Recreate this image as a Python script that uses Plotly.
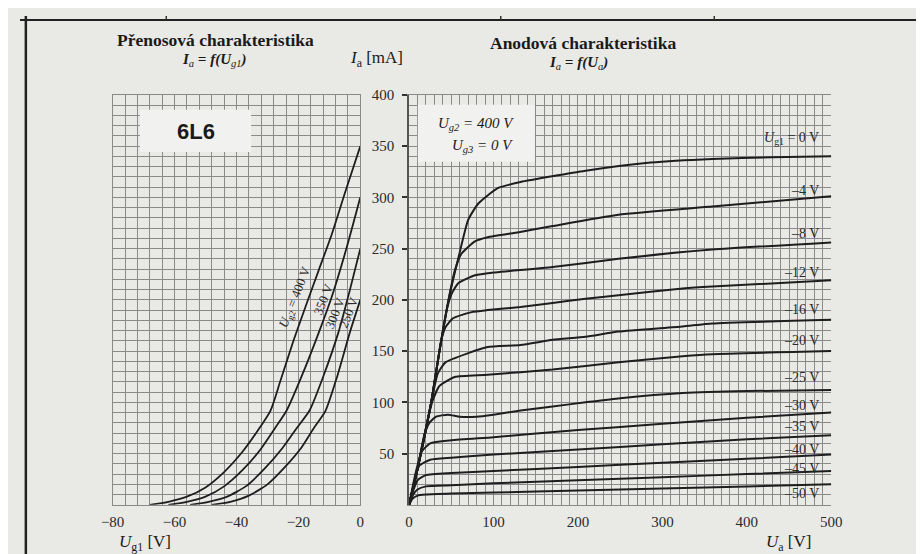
import plotly.graph_objects as go

W, H = 924, 554
BG = "#e9e9e6"
GRID = "#8a8a8a"
INK = "#1e1e1e"
SERIF = "Liberation Serif"

# ---------------- data: transfer characteristic Ia = f(Ug1) ----------------
ug2_labels = ["400 V", "350 V", "300 V", "250 V"]
tr_ug1_400 = [-68, -62, -56, -50, -44, -38, -33, -29, -25.8, -21.6, -17.5, -13.3, -9.1, -5, 0]
tr_ia_400 = [0, 3, 8, 17, 32, 52, 73, 92, 121, 160, 195, 230, 265, 304, 350]
tr_ug1_350 = [-62, -56, -50, -44, -38, -32, -27.5, -23.8, -19, -13.3, -9, -4.5, 0]
tr_ia_350 = [0, 3, 8, 18, 34, 55, 75, 92, 125, 169, 205, 250, 300]
tr_ug1_300 = [-55, -49, -43, -37, -31, -25, -20.5, -16.4, -12, -7, -3.5, 0]
tr_ia_300 = [0, 3, 8, 18, 35, 56, 75, 92, 125, 169, 208, 250]
tr_ug1_250 = [-48, -42, -36, -30, -24, -19, -15, -11.2, -7.5, -3.3, 0]
tr_ia_250 = [0, 3, 9, 20, 38, 56, 75, 92, 125, 169, 200]

# ---------------- data: anode characteristic Ia = f(Ua) ----------------
ug1_labels = ["0 V", "–4 V", "–8 V", "–12 V", "–16 V", "–20 V", "–25 V",
              "–30 V", "–35 V", "–40 V", "–45 V", "–50 V"]
label_ia = [357, 307, 265, 227, 191, 160, 124, 97, 76, 54, 35, 11]

an_ua_0 = [0, 10, 26, 36, 47, 59, 70, 82, 105, 132, 209, 286, 359, 430, 500]
an_ia_0 = [0, 35, 99, 150, 201, 243, 278, 294, 309, 315, 326, 334, 337.5, 339, 340]
an_ua_4 = [0, 10, 26, 36, 47, 54, 62, 78, 93, 130, 170, 248, 359, 500]
an_ia_4 = [0, 35, 99, 150, 201, 228, 245, 257, 261, 266, 272, 283, 291, 301]
an_ua_8 = [0, 10, 26, 36, 44, 50, 58, 78, 93, 170, 248, 359, 500]
an_ia_8 = [0, 35, 99, 150, 188, 205, 216, 224, 226, 232, 240, 249, 256]
an_ua_12 = [0, 10, 26, 34, 38, 43, 52, 74, 93, 132, 170, 209, 248, 324, 359, 500]
an_ia_12 = [0, 35, 99, 140, 160, 173, 182, 188, 190, 193, 197, 201, 204.5, 211, 213, 219]
an_ua_16 = [0, 10, 26, 30, 34, 43, 70, 93, 132, 170, 209, 248, 324, 359, 500]
an_ia_16 = [0, 35, 99, 115, 128, 139, 148, 154, 156, 161, 164, 169, 174, 177, 180.5]
an_ua_20 = [0, 10, 22, 28, 36, 47, 55, 93, 170, 248, 324, 359, 500]
an_ia_20 = [0, 35, 83, 102, 116, 122, 125, 127, 132, 139, 145, 147, 150]
an_ua_25 = [0, 10, 18, 24, 32, 46, 60, 80, 100, 132, 170, 209, 250, 324, 400, 500]
an_ia_25 = [0, 35, 68, 80, 86, 88, 86, 86, 88, 92, 96, 100, 104, 109, 111, 112]
an_ua_30 = [0, 8, 15, 25, 50, 100, 200, 300, 400, 500]
an_ia_30 = [0, 32, 52, 60, 63, 66, 73, 79, 85, 90]
an_ua_35 = [0, 6, 12, 25, 50, 100, 200, 300, 400, 500]
an_ia_35 = [0, 22, 38, 44, 46, 49, 54, 59, 64, 68]
an_ua_40 = [0, 5, 10, 20, 50, 100, 200, 300, 400, 500]
an_ia_40 = [0, 14, 24, 29, 31, 33, 37, 41, 45, 49]
an_ua_45 = [0, 5, 10, 20, 50, 100, 200, 300, 400, 500]
an_ia_45 = [0, 10, 15, 18, 19, 21, 24, 27, 30, 33]
an_ua_50 = [0, 4, 10, 20, 50, 100, 200, 300, 400, 500]
an_ia_50 = [0, 6, 9, 10, 11, 12, 14, 16, 18, 20]

left_ticks = [-80, -60, -40, -20, 0]
left_ticktext = ["−80", "−60", "−40", "−20", "0"]
right_ticks = [0, 100, 200, 300, 400, 500]
y_ticks = [50, 100, 150, 200, 250, 300, 350, 400]

# ---------------- figure ----------------
fig = go.Figure()

transfer = [(tr_ug1_400, tr_ia_400), (tr_ug1_350, tr_ia_350),
            (tr_ug1_300, tr_ia_300), (tr_ug1_250, tr_ia_250)]
for (xs, ys), name in zip(transfer, ug2_labels):
    fig.add_trace(go.Scatter(x=xs, y=ys, mode="lines", name=name,
                             line=dict(color=INK, width=1.8, shape="spline", smoothing=0.6),
                             xaxis="x", yaxis="y", showlegend=False, hoverinfo="skip"))

anode = [(an_ua_0, an_ia_0), (an_ua_4, an_ia_4), (an_ua_8, an_ia_8), (an_ua_12, an_ia_12),
         (an_ua_16, an_ia_16), (an_ua_20, an_ia_20), (an_ua_25, an_ia_25), (an_ua_30, an_ia_30),
         (an_ua_35, an_ia_35), (an_ua_40, an_ia_40), (an_ua_45, an_ia_45), (an_ua_50, an_ia_50)]
for (xs, ys), name in zip(anode, ug1_labels):
    fig.add_trace(go.Scatter(x=xs, y=ys, mode="lines", name=name,
                             line=dict(color=INK, width=2, shape="spline", smoothing=0.5),
                             xaxis="x2", yaxis="y2", showlegend=False, hoverinfo="skip"))

px = lambda v: v / W
py = lambda v: 1 - v / H

grid_common = dict(showgrid=True, gridcolor=GRID, gridwidth=1, zeroline=False,
                   showline=True, linecolor=GRID, linewidth=1)
tickfont = dict(family=SERIF, size=15, color="#2a2a2a")

fig.update_layout(
    width=W, height=H, autosize=False,
    margin=dict(l=0, r=0, t=0, b=0),
    paper_bgcolor=BG, plot_bgcolor=BG,
    xaxis=dict(domain=[px(95), px(349)], range=[-80, 0], anchor="y",
               tickmode="array", tickvals=left_ticks, ticktext=left_ticktext,
               ticks="", tickfont=tickfont, ticklabelstandoff=3,
               minor=dict(dtick=4, tick0=0, showgrid=True, gridcolor=GRID, gridwidth=1),
               mirror=True, **grid_common),
    yaxis=dict(domain=[py(496), py(80)], range=[0, 400], anchor="x",
               tickmode="linear", tick0=0, dtick=50, showticklabels=False, ticks="",
               minor=dict(dtick=10, tick0=0, showgrid=True, gridcolor=GRID, gridwidth=1),
               mirror=True, **grid_common),
    xaxis2=dict(domain=[px(399), px(832)], range=[0, 500], anchor="y2",
                tickmode="array", tickvals=right_ticks, ticks="", tickfont=tickfont,
                ticklabelstandoff=3,
                minor=dict(dtick=10, tick0=0, showgrid=True, gridcolor=GRID, gridwidth=1),
                mirror=True, **grid_common),
    yaxis2=dict(domain=[py(496), py(80)], range=[0, 400], anchor="x2",
                tickmode="array", tickvals=y_ticks, ticks="outside", ticklen=5,
                tickcolor="#333", tickwidth=1.5, tickfont=tickfont, ticklabelstandoff=5,
                minor=dict(dtick=10, tick0=0, showgrid=True, gridcolor=GRID, gridwidth=1),
                **grid_common),
)
fig.update_layout(yaxis2_linecolor="#555", yaxis2_linewidth=1.5)

shapes = []
# outer frame of the scanned page
shapes.append(dict(type="line", xref="paper", yref="paper", x0=px(0), x1=px(924),
                   y0=py(4), y1=py(4), line=dict(color="#222", width=2)))
shapes.append(dict(type="line", xref="paper", yref="paper", x0=px(6), x1=px(6),
                   y0=py(0), y1=py(554), line=dict(color="#222", width=2.5)))
shapes.append(dict(type="line", xref="paper", yref="paper", x0=px(0), x1=px(924),
                   y0=py(552), y1=py(552), line=dict(color="#222", width=3)))
shapes.append(dict(type="line", xref="paper", yref="paper", x0=px(921), x1=px(921),
                   y0=py(0), y1=py(554), line=dict(color="#333", width=1.5)))
for xv in [150, 493, 712]:
    shapes.append(dict(type="line", xref="paper", yref="paper", x0=px(xv), x1=px(xv),
                       y0=py(0), y1=py(4), line=dict(color="#333", width=1.5)))
# white label boxes
shapes.append(dict(type="rect", xref="paper", yref="paper", x0=px(123), x1=px(237),
                   y0=py(138), y1=py(95), fillcolor="#f1f1ef", line=dict(width=0), layer="above"))
shapes.append(dict(type="rect", xref="paper", yref="paper", x0=px(408), x1=px(528),
                   y0=py(148), y1=py(90), fillcolor="#f1f1ef", line=dict(width=0), layer="above"))
fig.update_layout(shapes=shapes)

ann = []
def a_paper(text, x, y, size=15, xanchor="center", font=SERIF, color="#1a1a1a"):
    ann.append(dict(text=text, xref="paper", yref="paper", x=px(x), y=py(y),
                    xanchor=xanchor, yanchor="middle", showarrow=False,
                    font=dict(family=font, size=size, color=color)))

a_paper("<b>Přenosová charakteristika</b>", 200, 24, size=17.5)
a_paper("<b><i>I</i></b><sub><i>a</i></sub><b><i> = f(U</i></b><sub><i>g1</i></sub><b><i>)</i></b>", 199, 45, size=15)
a_paper("<i>I</i><sub>a</sub> [mA]", 366, 44, size=17)
a_paper("<b>Anodová charakteristika</b>", 577, 27, size=17.5)
a_paper("<b><i>I</i></b><sub><i>a</i></sub><b><i> = f(U</i></b><sub><i>a</i></sub><b><i>)</i></b>", 573, 48, size=15)
a_paper("<b>6L6</b>", 180, 117, size=22, font="Liberation Sans")
a_paper("<i>U</i><sub><i>g2</i></sub><i> = 400 V</i>", 468, 110, size=15)
a_paper("<i>U</i><sub><i>g3</i></sub><i> = 0 V</i>", 474, 132, size=15)
a_paper("<i>U</i><sub>g1</sub> [V]", 128, 535, size=17)
a_paper("<i>U</i><sub>a</sub> [V]", 788, 535, size=17)

# curve labels on anode characteristic
for i, (txt, yv) in enumerate(zip(ug1_labels, label_ia)):
    t = "<i>U</i><sub>g1</sub> = 0 V" if i == 0 else txt
    ann.append(dict(text=t, xref="x2", yref="y2", x=488, y=yv, xanchor="right",
                    yanchor="middle", showarrow=False,
                    font=dict(family=SERIF, size=14, color="#2a2a2a")))

# rotated labels on transfer characteristic
rot_pos = [(-20.8, 203, "<i>U</i><sub>g2</sub> = 400 V"), (-11.8, 201, "350 V"),
           (-8.2, 188, "300 V"), (-3.9, 188, "250 V")]
for xv, yv, t in rot_pos:
    ann.append(dict(text=t, xref="x", yref="y", x=xv, y=yv, textangle=-68,
                    showarrow=False, font=dict(family=SERIF, size=13, color="#2a2a2a")))

fig.update_layout(annotations=ann)
fig.write_html("out.html")
